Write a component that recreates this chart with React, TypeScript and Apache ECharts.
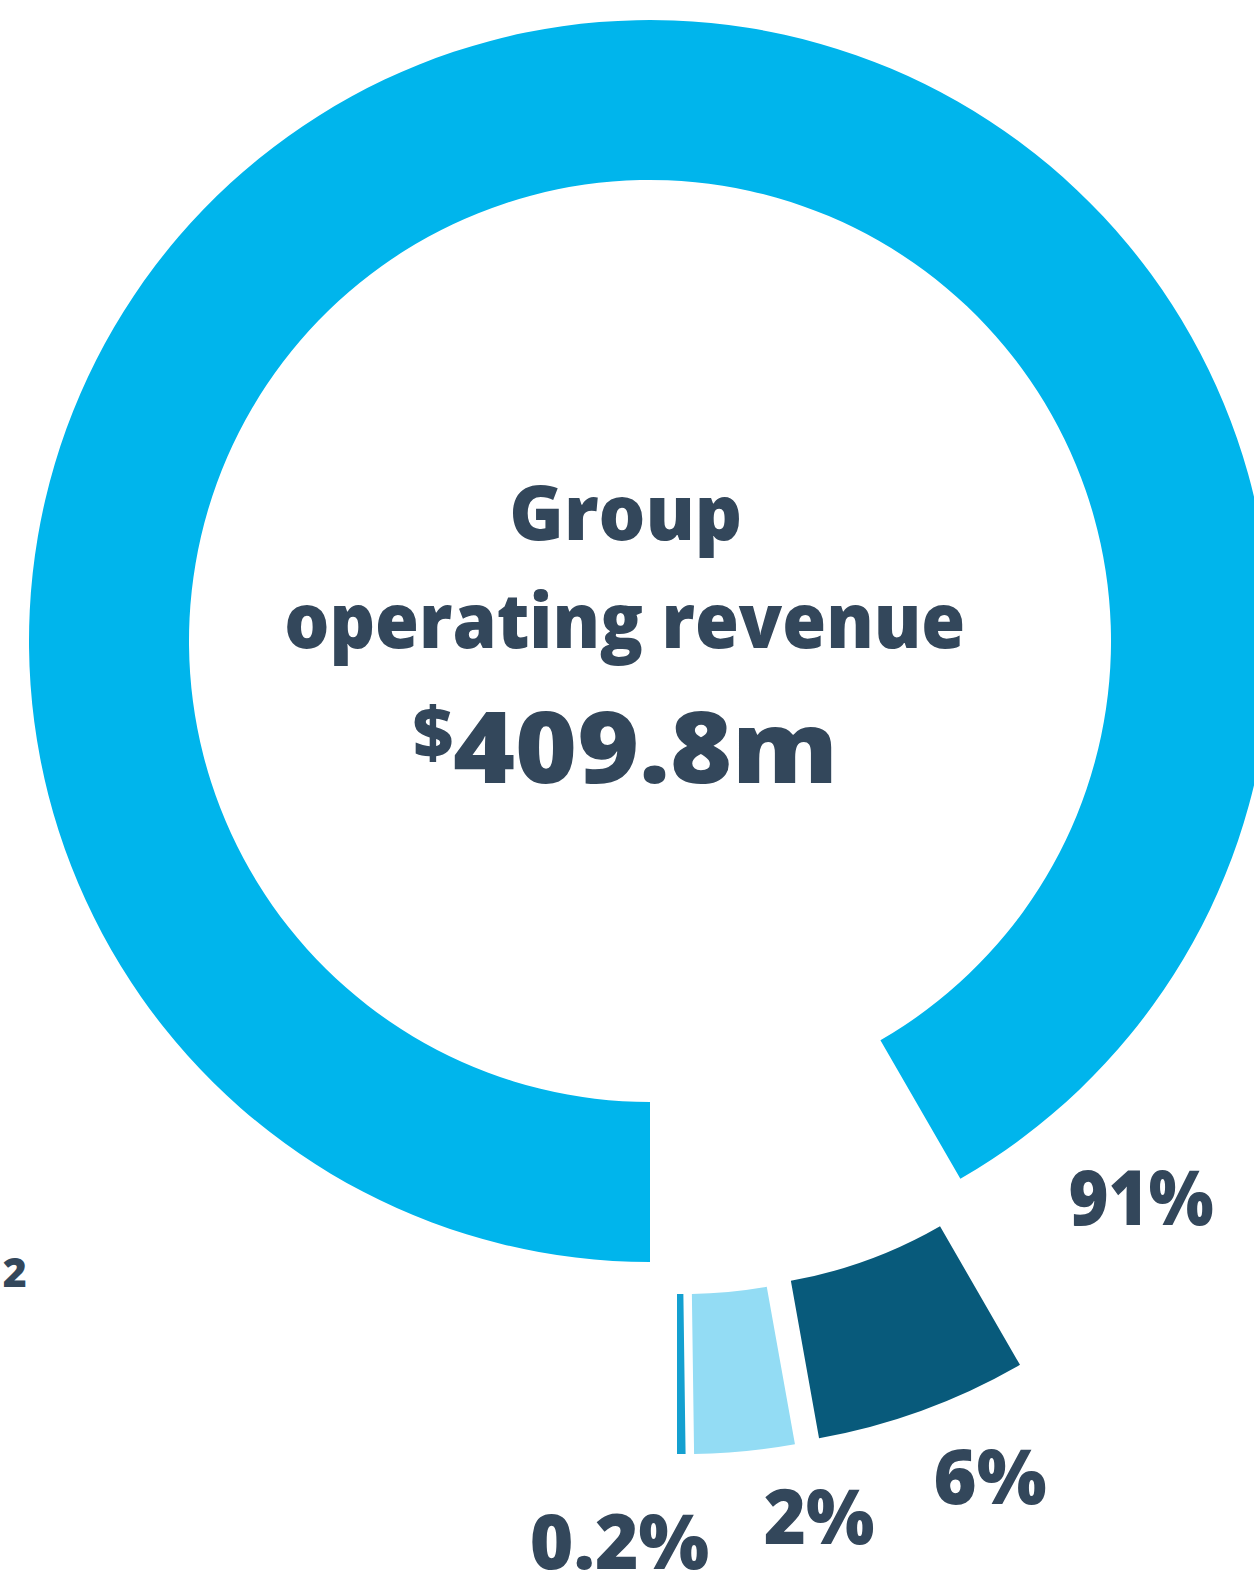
import React, { useEffect, useRef } from "react";
import * as echarts from "echarts";

// ---- data ----
const categories = ["Segment 1", "Segment 2", "Segment 3", "Segment 4"];
// share of the ring swept by each slice (percent of the full circle)
const shares = [91.67, 5.51, 2.6, 0.22];
const shareLabels = ["91%", "6%", "2%", "0.2%"];
const titleLines = ["Group", "operating revenue"];
const currencySymbol = "$";
const totalValue = "409.8m";
const footnoteMark = "2";

// ---- styles / layout ----
const sliceColors = ["#00B5EC", "#085A7B", "#93DCF4", "#14A0D0"];
const textColor = "#33475B";
const FONT = '"Open Sans", "Noto Sans", sans-serif';
const WEIGHT = 800;
const innerR = 461;
const outerR = 621;
// each slice is pulled out of the ring by its own amount
const sliceCenters = [
  [650, 641],
  [709.6, 827],
  [685.5, 833],
  [677, 833],
];
const labelAnchors = [
  [1141, 1196],
  [990, 1474.5],
  [819, 1514.5],
  [619.5, 1540],
];
const labelScale = [0.9, 0.97, 0.95, 0.98];

export default function App() {
  const ref = useRef<HTMLDivElement>(null);

  useEffect(() => {
    if (!ref.current) return;
    const chart = echarts.init(ref.current, undefined, { renderer: "svg" });
    const total = shares.reduce((a, b) => a + b, 0);

    let cum = 0;
    const series = shares.map((v, i) => {
      const startCw = 180 + (cum / total) * 360; // clockwise from 12 o'clock
      cum += v;
      const startAngle = ((90 - startCw) % 360 + 720) % 360;
      return {
        type: "pie",
        name: categories[i],
        center: sliceCenters[i],
        radius: [innerR, outerR],
        startAngle,
        clockwise: true,
        silent: true,
        minAngle: 0,
        avoidLabelOverlap: false,
        label: { show: false },
        labelLine: { show: false },
        emphasis: { disabled: true },
        itemStyle: { borderWidth: 0 },
        data: [
          { name: categories[i], value: v, itemStyle: { color: sliceColors[i], borderWidth: 0 } },
          { name: "rest", value: total - v, itemStyle: { color: "rgba(0,0,0,0)", borderWidth: 0 } },
        ],
      };
    });

    const txt = (text: string, x: number, y: number, size: number, scaleX = 1) => ({
      type: "text",
      x,
      y,
      scaleX,
      silent: true,
      style: {
        text,
        fill: textColor,
        fontSize: size,
        fontWeight: WEIGHT,
        fontFamily: FONT,
        align: "center",
        verticalAlign: "middle",
      },
    });

    const graphics: any[] = [
      txt(titleLines[0], 625.8, 510.5, 76, 0.97),
      txt(titleLines[1], 624.7, 618.8, 76, 0.935),
      txt(currencySymbol, 433, 730.6, 70),
      txt(totalValue, 645.5, 744.5, 100, 1.06),
      txt(footnoteMark, 14.7, 1270.8, 41),
      ...shareLabels.map((t, i) => txt(t, labelAnchors[i][0], labelAnchors[i][1], 76, labelScale[i])),
    ];

    chart.setOption({
      animation: false,
      series,
      graphic: { elements: graphics },
    });

    return () => chart.dispose();
  }, []);

  return (
    <div
      ref={ref}
      style={{ position: "absolute", left: 0, top: 0, width: 1254, height: 1576, background: "#fff" }}
    />
  );
}
